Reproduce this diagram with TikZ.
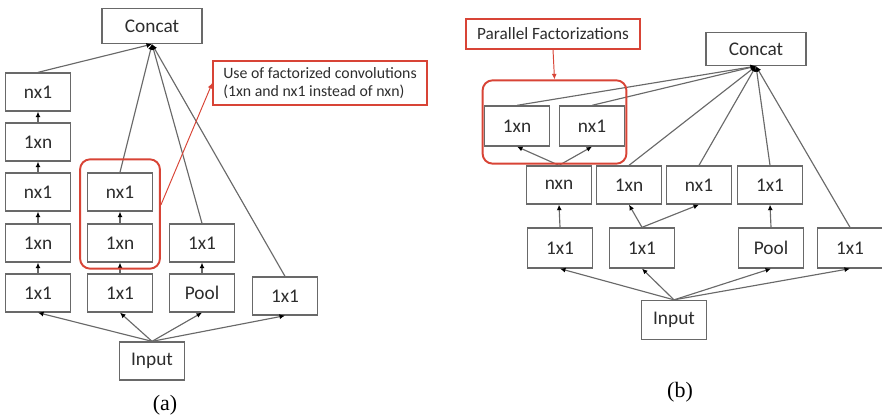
\documentclass[tikz,border=0pt]{standalone}
\usepackage{fontspec}
\setmainfont{Carlito}
\newfontfamily\capfont{Liberation Serif}
\usetikzlibrary{arrows.meta, fit}

\definecolor{boxgray}{RGB}{105,105,105}
\definecolor{labelgray}{RGB}{45,45,45}
\definecolor{notered}{RGB}{216,68,54}

\tikzset{
  blk/.style={draw=boxgray, line width=0.75pt, minimum width=12.9mm, minimum height=7.6mm,
    inner sep=0pt, text=labelgray, font=\fontsize{11}{13}\selectfont},
  wide/.style={blk, minimum width=20mm, minimum height=7mm},
  link/.style={draw=boxgray, line width=0.65pt, -{Latex[length=1.1mm, width=1mm, color=black]}},
  grp/.style={draw=notered, line width=1.1pt, rounded corners=2mm, inner xsep=1.4mm},
  note/.style={draw=notered, line width=0.8pt, inner xsep=1.6mm, align=left, text=labelgray},
  redlink/.style={draw=notered, line width=0.55pt, -{Latex[length=1.1mm, width=1mm]}},
  subcap/.style={font=\capfont\fontsize{12.5}{14}\selectfont}
}

\begin{document}
\begin{tikzpicture}[x=0.2mm, y=-0.2mm]
    \useasboundingbox (0,0) rectangle (882,418);
    % (a): factorized n x n
    \node[wide] (aCat) at (152,26) {Concat};
    \node[blk] (aIn) at (152,361) {Input};
    \node[blk] (aL1) at (38,293) {1x1};
    \node[blk] (aL2) at (38,243) {1xn};
    \node[blk] (aL3) at (38,192) {nx1};
    \node[blk] (aL4) at (38,142) {1xn};
    \node[blk] (aL5) at (38,92) {nx1};
    \node[blk] (aM1) at (120,293) {1x1};
    \node[blk] (aM2) at (120,243) {1xn};
    \node[blk] (aM3) at (120,192) {nx1};
    \node[blk] (aR1) at (202,293) {Pool};
    \node[blk] (aR2) at (202,243) {1x1};
    \node[blk] (aX) at (285,296) {1x1};
    \foreach \s/\t in {aL1/aL2, aL2/aL3, aL3/aL4, aL4/aL5, aM1/aM2, aM2/aM3, aR1/aR2}
        \draw[link] (\s.north) -- (\t.south);
    \foreach \s in {aL5, aM3, aR2, aX}
        \draw[link] (\s.north) -- (aCat.south);
    \foreach \t in {aL1, aM1, aR1, aX}
        \draw[link] (aIn.north) -- (\t.south);
    \node[grp, fit=(aM2)(aM3), inner ysep=1.9mm, yshift=0.7mm] (grpA) {};
    \node[note, font=\fontsize{9}{10.5}\selectfont, minimum width=42.8mm, minimum height=8.8mm] (noteA) at (320,83)
        {Use of factorized convolutions\\(1xn and nx1 instead of nxn)};
    \draw[redlink] ([yshift=1.8mm]grpA.east) -- (noteA.west);
    \node[subcap] (capA) at (165,405) {(a)};
    %
    % (b): parallel factorizations
    \node[wide, minimum height=6.6mm] (bCat) at (756,49) {Concat};
    \node[blk, minimum height=7.8mm] (bIn) at (674,320) {Input};
    \node[blk, minimum height=8mm] (bUp1) at (517,126) {1xn};
    \node[blk, minimum height=8mm] (bUp2) at (592,126) {nx1};
    \node[blk] (bMid1) at (559,185) {nxn};
    \node[blk] (bMid2) at (629,185) {1xn};
    \node[blk] (bMid3) at (699,185) {nx1};
    \node[blk] (bMid4) at (770,185) {1x1};
    \node[blk, minimum height=8mm] (bLow1) at (560,248) {1x1};
    \node[blk, minimum height=8mm] (bLow2) at (642,248) {1x1};
    \node[blk, minimum height=8mm] (bLow3) at (771,248) {Pool};
    \node[blk, minimum height=8mm] (bLow4) at (850,248) {1x1};
    \foreach \s/\t in {bLow1/bMid1, bLow2/bMid2, bLow2/bMid3, bLow3/bMid4, bMid1/bUp1, bMid1/bUp2}
        \draw[link] (\s.north) -- (\t.south);
    \foreach \s in {bUp1, bUp2, bMid2, bMid3, bMid4, bLow4}
        \draw[link] (\s.north) -- (bCat.south);
    \foreach \t in {bLow1, bLow2, bLow3, bLow4}
        \draw[link] (bIn.north) -- (\t.south);
    \node[grp, fit=(bUp1)(bUp2), inner xsep=0.3mm, inner ysep=4.2mm, yshift=0.8mm] (grpB) {};
    \node[note, font=\fontsize{9.8}{11}\selectfont, minimum width=34.8mm, minimum height=6mm] (noteB) at (553,34)
        {Parallel Factorizations};
    \draw[redlink] (noteB.south) -- (grpB.north);
    \node[subcap] (capB) at (680,392) {(b)};
\end{tikzpicture}
\end{document}
